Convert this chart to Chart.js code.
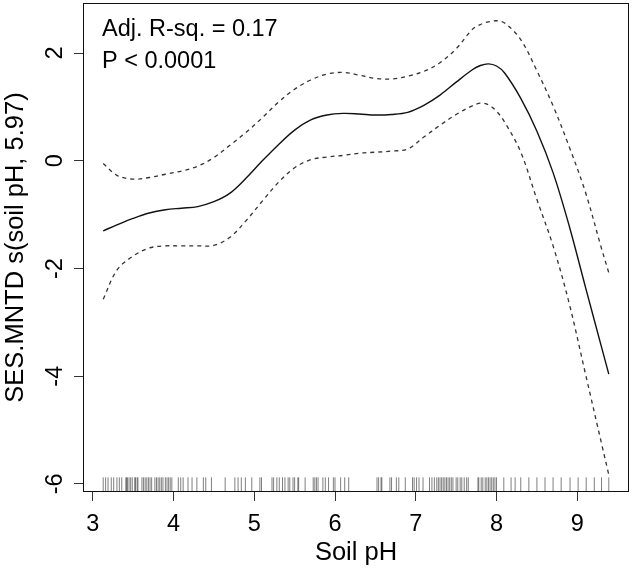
<!DOCTYPE html>
<html>
<head>
<meta charset="utf-8">
<script src="https://cdn.jsdelivr.net/npm/chart.js@4/dist/chart.umd.min.js"></script>
<style>
html,body{margin:0;padding:0;background:#fff}
canvas{display:block}
</style>
</head>
<body>
<canvas id="c" width="633" height="578"></canvas>
<script>
// ---- data ----
const phGrid = [3.13,3.3,3.5,3.7,3.9,4.1,4.3,4.5,4.7,4.9,5.1,5.3,5.5,5.7,5.9,6.1,6.3,6.5,6.7,6.9,7.1,7.3,7.5,7.7,7.8,7.9,8.0,8.1,8.3,8.5,8.7,8.9,9.1,9.3,9.39];
const fitValues = [-1.30,-1.19,-1.07,-0.97,-0.91,-0.88,-0.85,-0.76,-0.60,-0.32,0.00,0.30,0.57,0.76,0.85,0.88,0.87,0.85,0.86,0.90,1.03,1.22,1.46,1.69,1.77,1.80,1.76,1.63,1.16,0.55,-0.22,-1.21,-2.34,-3.46,-3.96];
const upperValues = [-0.05,-0.27,-0.34,-0.31,-0.25,-0.19,-0.10,0.06,0.29,0.53,0.80,1.09,1.33,1.50,1.61,1.64,1.59,1.53,1.52,1.57,1.66,1.82,2.08,2.44,2.53,2.58,2.60,2.56,2.25,1.67,1.02,0.26,-0.58,-1.63,-2.08];
const lowerValues = [-2.57,-2.03,-1.77,-1.62,-1.58,-1.58,-1.58,-1.57,-1.42,-1.11,-0.75,-0.40,-0.13,0.02,0.07,0.10,0.14,0.16,0.18,0.22,0.44,0.66,0.86,1.02,1.07,1.04,0.92,0.72,0.16,-0.72,-1.58,-2.65,-3.95,-5.25,-5.83];
const rugPH = [3.13,3.16,3.19,3.23,3.26,3.30,3.33,3.36,3.41,3.42,3.43,3.45,3.47,3.49,3.52,3.53,3.55,3.56,3.61,3.63,3.65,3.67,3.69,3.71,3.73,3.77,3.79,3.81,3.83,3.85,3.87,3.90,3.92,3.94,3.96,3.98,4.06,4.09,4.12,4.18,4.23,4.29,4.37,4.40,4.47,4.64,4.76,4.80,4.84,4.89,4.97,5.07,5.09,5.22,5.24,
5.28,5.31,5.35,5.38,5.42,5.44,5.48,5.50,5.54,5.55,5.63,5.73,5.75,5.77,5.79,5.85,5.88,5.92,5.98,6.00,6.07,6.12,6.17,6.52,6.54,6.57,6.58,6.68,6.70,6.76,6.79,6.87,6.96,6.98,7.01,7.04,7.09,7.17,7.20,7.23,7.26,7.28,7.30,7.32,7.34,7.36,7.38,7.40,7.42,7.44,7.46,
7.50,7.52,7.55,7.57,7.60,7.63,7.65,7.77,7.78,7.81,7.83,7.86,7.88,7.90,7.92,7.94,7.96,7.98,8.00,8.09,8.18,8.23,8.30,8.40,8.50,8.60,8.70,8.80,8.91,9.01,9.11,9.21,9.30,9.39];
const xTicks = [3,4,5,6,7,8,9];
const yTicks = [-6,-4,-2,0,2];
const xRange = [2.88, 9.64];
const yRange = [-6.15, 2.93];
const annotationLines = ['Adj. R-sq. = 0.17', 'P < 0.0001'];
const xTitle = 'Soil pH';
const yTitle = 'SES.MNTD s(soil pH, 5.97)';

// ---- chart ----
const FONT = 'Liberation Sans, Arial, Helvetica, sans-serif';
const FS = 23.5;
const TFS = 25.5;
Chart.defaults.font.family = FONT;
Chart.defaults.font.size = FS;
Chart.defaults.color = '#000';

const pts = ys => phGrid.map((x, i) => ({x, y: ys[i]}));

const zeroPad = s => { s.paddingLeft = 0; s.paddingRight = 0; s.paddingTop = 0; s.paddingBottom = 0; };

const rPlot = {
  id: 'rPlot',
  beforeDraw(chart) {
    const ctx = chart.ctx;
    ctx.save();
    ctx.fillStyle = '#fff';
    ctx.fillRect(0, 0, chart.width, chart.height);
    ctx.restore();
  },
  afterDatasetsDraw(chart) {
    const {ctx, chartArea: a, scales: {x}} = chart;
    ctx.save();
    // rug
    const len = 0.03 * (a.bottom - a.top);
    ctx.strokeStyle = 'rgba(0,0,0,0.5)';
    ctx.lineWidth = 1;
    rugPH.forEach(v => {
      const px = x.getPixelForValue(v);
      ctx.beginPath();
      ctx.moveTo(px, a.bottom);
      ctx.lineTo(px, a.bottom - len);
      ctx.stroke();
    });
    // box
    ctx.strokeStyle = '#111';
    ctx.lineWidth = 1;
    ctx.strokeRect(Math.round(a.left) + 0.5, Math.round(a.top) + 0.5,
                   Math.round(a.right - a.left) - 1, Math.round(a.bottom - a.top) - 1);
    // annotation text
    ctx.fillStyle = '#000';
    ctx.font = FS + 'px ' + FONT;
    ctx.textAlign = 'left';
    ctx.textBaseline = 'alphabetic';
    annotationLines.forEach((t, i) => {
      ctx.fillText(t, a.left + 19, a.top + 33 + i * 32);
    });
    ctx.restore();
  }
};

new Chart(document.getElementById('c'), {
  type: 'scatter',
  data: {
    datasets: [
      {data: pts(fitValues), showLine: true, borderColor: '#111', borderWidth: 1.4, pointRadius: 0, tension: 0.35, fill: false},
      {data: pts(upperValues), showLine: true, borderColor: '#333', borderWidth: 1.3, borderDash: [4, 4], pointRadius: 0, tension: 0.35, fill: false},
      {data: pts(lowerValues), showLine: true, borderColor: '#333', borderWidth: 1.3, borderDash: [4, 4], pointRadius: 0, tension: 0.35, fill: false}
    ]
  },
  options: {
    responsive: false,
    animation: false,
    devicePixelRatio: 1,
    layout: {padding: {left: 0, top: 3, right: 4, bottom: 0}},
    plugins: {legend: {display: false}, tooltip: {enabled: false}},
    scales: {
      x: {
        type: 'linear', min: xRange[0], max: xRange[1],
        afterBuildTicks: s => { s.ticks = xTicks.map(v => ({value: v})); },
        afterFit: s => { s.height = 86; zeroPad(s); },
        ticks: {padding: 9, autoSkip: false, maxRotation: 0, color: '#000'},
        grid: {drawOnChartArea: false, drawTicks: true, tickLength: 9, tickColor: '#333', tickWidth: 1},
        border: {display: false},
        title: {display: true, text: xTitle, color: '#000', font: {size: TFS}, padding: {top: 0, bottom: 10}}
      },
      y: {
        type: 'linear', min: yRange[0], max: yRange[1],
        afterBuildTicks: s => { s.ticks = yTicks.map(v => ({value: v})); },
        afterFit: s => { s.width = 83; zeroPad(s); },
        ticks: {padding: 8, autoSkip: false, crossAlign: 'center', minRotation: 90, maxRotation: 90, color: '#000'},
        grid: {drawOnChartArea: false, drawTicks: true, tickLength: 9, tickColor: '#333', tickWidth: 1},
        border: {display: false},
        title: {display: true, text: yTitle, color: '#000', font: {size: TFS}, padding: {top: 1, bottom: 0}}
      }
    }
  },
  plugins: [rPlot]
});
</script>
</body>
</html>
